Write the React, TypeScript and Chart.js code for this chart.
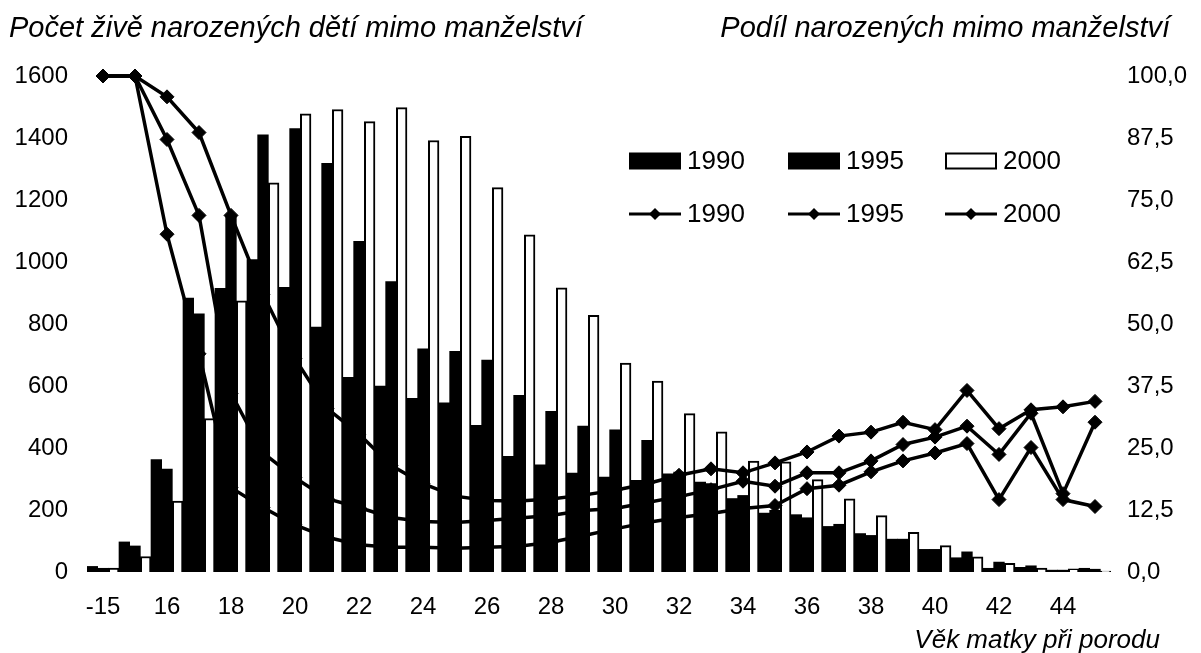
import React, { useEffect, useRef } from "react";
import { Chart, registerables } from "chart.js";

Chart.register(...registerables);

const categories = [
  "-15", "15", "16", "17", "18", "19", "20", "21", "22", "23", "24", "25", "26", "27", "28", "29",
  "30", "31", "32", "33", "34", "35", "36", "37", "38", "39", "40", "41", "42", "43", "44", "45",
];

const births1990 = [
  18, 97, 363, 884, 915, 1008, 918, 790, 628, 600, 560, 546, 473, 373, 346, 319,
  306, 296, 317, 290, 237, 190, 185, 147, 124, 106, 73, 46, 12, 15, 6, 12,
];
const births1995 = [
  12, 84, 332, 833, 1150, 1410, 1430, 1318, 1067, 937, 720, 712, 684, 570, 518, 471,
  459, 425, 322, 285, 247, 199, 175, 154, 118, 106, 73, 65, 32, 20, 6, 9,
];
const births2000 = [
  13, 50, 229, 495, 875, 1255, 1478, 1492, 1453, 1498, 1392, 1405, 1240, 1088, 917, 828,
  674, 616, 511, 452, 358, 355, 298, 236, 182, 128, 85, 49, 28, 13, 10, 3,
];

const share1990 = [
  100, 100, 68.1, 44, 17, 13, 9.5, 7, 5.5, 5.0, 5.0, 4.8, 5.0, 5.2, 6.0, 7.3,
  8.7, 10, 11, 11.8, 12.8, 13.4, 16.8, 17.5, 20.2, 22.4, 24, 25.9, 14.6, 25.1, 14.6, 13.2,
];
const share1995 = [
  100, 100, 87.2, 71.9, 36, 24, 19, 14.8, 13, 11, 10.2, 10, 10.4, 10.9, 11.4, 12.4,
  12.8, 14, 15.2, 16.6, 18.3, 17.3, 20, 20, 22.4, 25.7, 27.2, 29.4, 23.7, 32, 15.8, 30.2,
];
const share2000 = [
  100, 100, 95.8, 88.6, 71.9, 56, 43, 33, 27.8, 21.5, 17.8, 15.3, 14.4, 14.3, 14.7, 15.5,
  16.5, 17.8, 19.5, 20.8, 20.0, 22.0, 24.2, 27.4, 28.2, 30.2, 28.7, 36.6, 28.9, 32.7, 33.3, 34.4,
];

const seriesYears = ["1990", "1995", "2000"];

const FONT = "'Liberation Sans', Arial, Helvetica, sans-serif";
const TICK_SIZE = 24;
const LEGEND_SIZE = 26;

export default function App() {
  const ref = useRef<HTMLCanvasElement>(null);

  useEffect(() => {
    document.body.style.margin = "0";
    const canvas = ref.current;
    if (!canvas) return;

    const legendPlugin = {
      id: "customLegend",
      afterDraw(chart: any) {
        const c = chart.ctx as CanvasRenderingContext2D;
        c.save();
        c.font = `${LEGEND_SIZE}px ${FONT}`;
        c.fillStyle = "#000";
        c.textBaseline = "middle";
        c.textAlign = "left";
        const xs = [629, 788, 945];
        const w = 52;
        const row1 = 161;
        const row2 = 214;
        xs.forEach((x, i) => {
          if (i < 2) {
            c.fillStyle = "#000";
            c.fillRect(x, row1 - 8.5, w, 17);
          } else {
            c.fillStyle = "#fff";
            c.fillRect(x, row1 - 8.5, w, 17);
            c.strokeStyle = "#000";
            c.lineWidth = 2;
            c.strokeRect(x + 1, row1 - 7.5, w - 2, 15);
          }
          c.fillStyle = "#000";
          c.fillText(seriesYears[i], x + w + 6, row1 + 1);
          c.strokeStyle = "#000";
          c.lineWidth = 3;
          c.beginPath();
          c.moveTo(x, row2);
          c.lineTo(x + w, row2);
          c.stroke();
          const cx = x + w / 2;
          const r = 6;
          c.beginPath();
          c.moveTo(cx, row2 - r);
          c.lineTo(cx + r, row2);
          c.lineTo(cx, row2 + r);
          c.lineTo(cx - r, row2);
          c.closePath();
          c.fill();
          c.fillText(seriesYears[i], x + w + 6, row2 + 1);
        });
        c.restore();
      },
    };

    const lineStyle = {
      type: "line" as const,
      yAxisID: "y1",
      borderColor: "#000",
      borderWidth: 3.5,
      pointStyle: "rectRot" as const,
      pointRadius: 7,
      pointBackgroundColor: "#000",
      pointBorderColor: "#000",
      pointBorderWidth: 1,
      tension: 0,
      fill: false,
      clip: false as any,
      order: 0,
    };

    const tickFont = { family: FONT, size: TICK_SIZE };

    const chart = new Chart(canvas, {
      type: "bar",
      data: {
        labels: categories,
        datasets: [
          { type: "bar", label: "1990", data: births1990, yAxisID: "y", backgroundColor: "#000", borderWidth: 0, order: 1 } as any,
          { type: "bar", label: "1995", data: births1995, yAxisID: "y", backgroundColor: "#000", borderWidth: 0, order: 1 } as any,
          { type: "bar", label: "2000", data: births2000, yAxisID: "y", backgroundColor: "#fff", borderColor: "#000", borderWidth: 2, order: 1 } as any,
          { ...lineStyle, label: "1990 podíl", data: share1990 } as any,
          { ...lineStyle, label: "1995 podíl", data: share1995 } as any,
          { ...lineStyle, label: "2000 podíl", data: share2000 } as any,
        ],
      },
      options: {
        responsive: false,
        animation: false,
        events: [],
        layout: { padding: { top: 76, left: 0, right: 0, bottom: 0 } },
        datasets: { bar: { categoryPercentage: 1, barPercentage: 1 } },
        plugins: { legend: { display: false }, tooltip: { enabled: false } },
        scales: {
          x: {
            grid: { display: false, drawTicks: false },
            border: { display: false },
            ticks: {
              autoSkip: false,
              maxRotation: 0,
              minRotation: 0,
              padding: 21,
              color: "#000",
              font: tickFont,
              callback: (_v: any, i: number) => (i % 2 === 0 ? categories[i] : ""),
            },
            afterFit: (s: any) => {
              s.height = 81;
            },
          },
          y: {
            position: "left",
            min: 0,
            max: 1600,
            grid: { display: false, drawTicks: false },
            border: { display: false },
            ticks: {
              stepSize: 200,
              padding: 19,
              color: "#000",
              font: tickFont,
              callback: (v: any) => String(v),
            },
            afterFit: (s: any) => {
              s.width = 87;
            },
          },
          y1: {
            position: "right",
            min: 0,
            max: 100,
            grid: { display: false, drawTicks: false },
            border: { display: false },
            ticks: {
              stepSize: 12.5,
              padding: 16,
              color: "#000",
              font: tickFont,
              callback: (v: any) => Number(v).toFixed(1).replace(".", ","),
            },
            afterFit: (s: any) => {
              s.width = 90;
            },
          },
        },
      } as any,
      plugins: [legendPlugin],
    });

    return () => chart.destroy();
  }, []);

  const titleStyle: React.CSSProperties = {
    position: "absolute",
    fontFamily: FONT,
    fontStyle: "italic",
    color: "#000",
    whiteSpace: "nowrap",
  };

  return (
    <div style={{ position: "absolute", left: 0, top: 0, width: 1201, height: 653, background: "#fff" }}>
      <canvas ref={ref} width={1201} height={653} style={{ position: "absolute", left: 0, top: 0 }} />
      <div style={{ ...titleStyle, left: 9, top: 11, fontSize: 29, lineHeight: "33px" }}>
        Počet živě narozených dětí mimo manželství
      </div>
      <div style={{ ...titleStyle, right: 31, top: 11, fontSize: 29, lineHeight: "33px" }}>
        Podíl narozených mimo manželství
      </div>
      <div style={{ ...titleStyle, right: 41, top: 624, fontSize: 26, lineHeight: "30px" }}>
        Věk matky při porodu
      </div>
    </div>
  );
}
